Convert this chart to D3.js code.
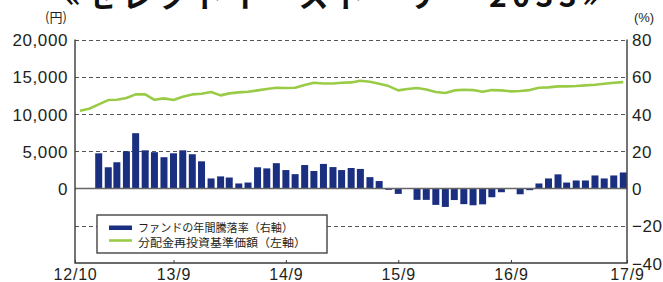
<!DOCTYPE html>
<html>
<head>
<meta charset="utf-8">
<script src="https://cdn.jsdelivr.net/npm/d3@7"></script>
<style>
  html, body { margin: 0; padding: 0; background: #fff; }
  svg { display: block; }
</style>
</head>
<body>
<div id="chart"></div>
<script>
// Chart data
const firstMonth = new Date(2012, 10, 1);   // 12/11, first NAV point

// 分配金再投資基準価額 (円), monthly from 12/11 to 17/9
const navValues = [
  10440, 10710, 11300, 11870, 11910, 12140, 12630, 12630, 11910, 12100,
  11870, 12320, 12630, 12720, 12950, 12500, 12770, 12900, 12990, 13170,
  13350, 13520, 13480, 13520, 13900, 14200, 14100, 14100, 14190, 14240,
  14460, 14320, 14060, 13750, 13170, 13350, 13480, 13300, 12950, 12810,
  13170, 13250, 13210, 12990, 13210, 13170, 13040, 13080, 13210, 13520,
  13570, 13710, 13710, 13750, 13840, 13930, 14060, 14190, 14280
];

// ファンドの年間騰落率 (%), monthly from 13/1 to 17/9
const returnOffset = 2;
const returnValues = [
  18.9, 11.4, 14.1, 20.0, 29.7, 20.5, 19.5, 16.8, 18.9, 20.5,
  18.4, 14.6, 5.4, 6.5, 5.9, 2.7, 3.2, 11.4, 10.8, 13.6,
  9.9, 7.7, 12.6, 9.4, 13.2, 11.5, 9.9, 11.0, 10.5, 6.1,
  4.0, -0.7, -2.9, 0, -6.1, -6.1, -8.8, -9.9, -6.2, -8.4,
  -9.0, -8.5, -4.7, -2.0, 0, -3.1, -0.9, 2.7, 5.4, 7.6,
  3.2, 4.3, 4.3, 7.0, 5.4, 7.0, 8.6
];

const leftTicks = [0, 5000, 10000, 15000, 20000];
const rightTicks = [-40, -20, 0, 20, 40, 60, 80];
const xTickDates = [new Date(2013, 8, 1), new Date(2014, 8, 1), new Date(2015, 8, 1), new Date(2016, 8, 1)];
const xStart = new Date(2012, 9, 16);
const xEnd = new Date(2017, 8, 13);

const titleText = '«セレクトイーストーリー 2033»';
const legendLabels = ['ファンドの年間騰落率（右軸）', '分配金再投資基準価額（左軸）'];
const legendWidths = [155, 168];

// Layout
const WIDTH = 663, HEIGHT = 282;
const plot = { left: 75, right: 627, top: 39.5, bottom: 263 };
const COLORS = { bar: '#1b2f80', line: '#9acb47', text: '#231f20', grid: '#555', frame: '#3a3a3a' };
const NUM_FONT = '"Liberation Sans", Arial, sans-serif';
const JP_FONT = '"Noto Sans CJK JP", sans-serif';

const navData = navValues.map((v, i) => ({ date: d3.timeMonth.offset(firstMonth, i), value: v }));
const returnData = returnValues.map((v, i) => ({ date: d3.timeMonth.offset(firstMonth, i + returnOffset), value: v }));

const svg = d3.select('#chart').append('svg')
  .attr('width', WIDTH)
  .attr('height', HEIGHT);

// Scales
const x = d3.scaleTime().domain([xStart, xEnd]).range([plot.left, plot.right]);
const yLeft = d3.scaleLinear().domain([-10000, 20000]).range([plot.bottom, plot.top]);
const yRight = d3.scaleLinear().domain([-40, 80]).range([plot.bottom, plot.top]);

// Title (clipped at top of the picture)
svg.append('text')
  .attr('x', 65)
  .attr('y', 7)
  .attr('textLength', 533)
  .attr('lengthAdjust', 'spacing')
  .style('font-family', JP_FONT)
  .style('font-weight', 'bold')
  .style('font-size', '30px')
  .style('fill', '#111')
  .text(titleText);

// Dashed grid lines (right axis ticks)
svg.append('g')
  .selectAll('line')
  .data(rightTicks.filter(d => d !== 0 && d !== -40))
  .enter()
  .append('line')
  .attr('x1', plot.left)
  .attr('x2', plot.right)
  .attr('y1', d => Math.round(yRight(d)) + 0.5)
  .attr('y2', d => Math.round(yRight(d)) + 0.5)
  .attr('stroke', COLORS.grid)
  .attr('stroke-width', 1)
  .attr('stroke-dasharray', '4,3');

// Bars
svg.append('g')
  .selectAll('rect')
  .data(returnData)
  .enter()
  .append('rect')
  .attr('x', d => x(d.date) - 3.5)
  .attr('width', 7)
  .attr('y', d => yRight(Math.max(0, d.value)))
  .attr('height', d => Math.abs(yRight(d.value) - yRight(0)))
  .attr('fill', COLORS.bar);

// Zero line
svg.append('line')
  .attr('x1', plot.left)
  .attr('x2', plot.right)
  .attr('y1', yRight(0))
  .attr('y2', yRight(0))
  .attr('stroke', '#666')
  .attr('stroke-width', 1.6);

// NAV line
svg.append('path')
  .datum(navData)
  .attr('fill', 'none')
  .attr('stroke', COLORS.line)
  .attr('stroke-width', 2.6)
  .attr('stroke-linejoin', 'round')
  .attr('d', d3.line().x(d => x(d.date)).y(d => yLeft(d.value)));

// Frame: left, right, bottom
svg.append('path')
  .attr('d', `M${plot.left},${plot.top}V${plot.bottom}H${plot.right}V${plot.top}`)
  .attr('fill', 'none')
  .attr('stroke', COLORS.frame)
  .attr('stroke-width', 1.4);

// Left axis labels
const leftAxis = svg.append('g')
  .attr('transform', `translate(${plot.left},0)`)
  .call(d3.axisLeft(yLeft).tickValues(leftTicks).tickSize(0).tickPadding(7)
    .tickFormat(d3.format(',')));
leftAxis.select('.domain').remove();
leftAxis.selectAll('text')
  .attr('dy', '0.36em')
  .style('font-family', NUM_FONT)
  .style('font-size', '17px')
  .style('letter-spacing', '0.6px')
  .style('fill', COLORS.text);

// Right axis labels
const rightAxis = svg.append('g')
  .attr('transform', `translate(${plot.right},0)`)
  .call(d3.axisRight(yRight).tickValues(rightTicks).tickSize(0).tickPadding(5)
    .tickFormat(d => d < 0 ? '\u2212' + Math.abs(d) : d));
rightAxis.select('.domain').remove();
rightAxis.selectAll('text')
  .attr('dy', '0.36em')
  .style('font-family', NUM_FONT)
  .style('font-size', '17px')
  .style('letter-spacing', '0.6px')
  .style('fill', COLORS.text);

// Bottom axis
const fmt = d3.timeFormat('%y/%-m');
const bottomAxis = svg.append('g')
  .attr('transform', `translate(0,${plot.bottom})`)
  .call(d3.axisBottom(x).tickValues([xStart, ...xTickDates, xEnd]).tickSizeInner(-3).tickSizeOuter(0)
    .tickPadding(6).tickFormat(fmt));
bottomAxis.select('.domain').remove();
bottomAxis.selectAll('.tick line').attr('stroke', COLORS.frame);
bottomAxis.selectAll('text')
  .attr('dy', '0.71em')
  .style('font-family', NUM_FONT)
  .style('font-size', '16px')
  .style('letter-spacing', '0.8px')
  .style('fill', COLORS.text);

// Unit labels
svg.append('text')
  .attr('x', 56)
  .attr('y', 22)
  .attr('text-anchor', 'middle')
  .style('font-family', JP_FONT)
  .style('font-size', '13px')
  .style('fill', COLORS.text)
  .text('(円)');
svg.append('text')
  .attr('x', 644)
  .attr('y', 22)
  .attr('text-anchor', 'middle')
  .style('font-family', NUM_FONT)
  .style('font-size', '13px')
  .style('fill', COLORS.text)
  .text('(%)');

// Legend
const legend = svg.append('g').attr('transform', 'translate(97,215)');
legend.append('rect')
  .attr('width', 230)
  .attr('height', 38)
  .attr('fill', '#fff')
  .attr('stroke', '#444')
  .attr('stroke-width', 1.4);
legend.append('rect')
  .attr('x', 12)
  .attr('y', 10.5)
  .attr('width', 23)
  .attr('height', 4.5)
  .attr('fill', COLORS.bar);
legend.append('line')
  .attr('x1', 12)
  .attr('x2', 35)
  .attr('y1', 25.5)
  .attr('y2', 25.5)
  .attr('stroke', COLORS.line)
  .attr('stroke-width', 2.6);
legend.selectAll('text.lbl')
  .data(legendLabels)
  .enter()
  .append('text')
  .attr('class', 'lbl')
  .attr('x', 41)
  .attr('y', (d, i) => 16.5 + i * 15)
  .attr('textLength', (d, i) => legendWidths[i])
  .attr('lengthAdjust', 'spacingAndGlyphs')
  .style('font-family', JP_FONT)
  .style('font-size', '11.5px')
  .style('fill', COLORS.text)
  .text(d => d);
</script>
</body>
</html>
